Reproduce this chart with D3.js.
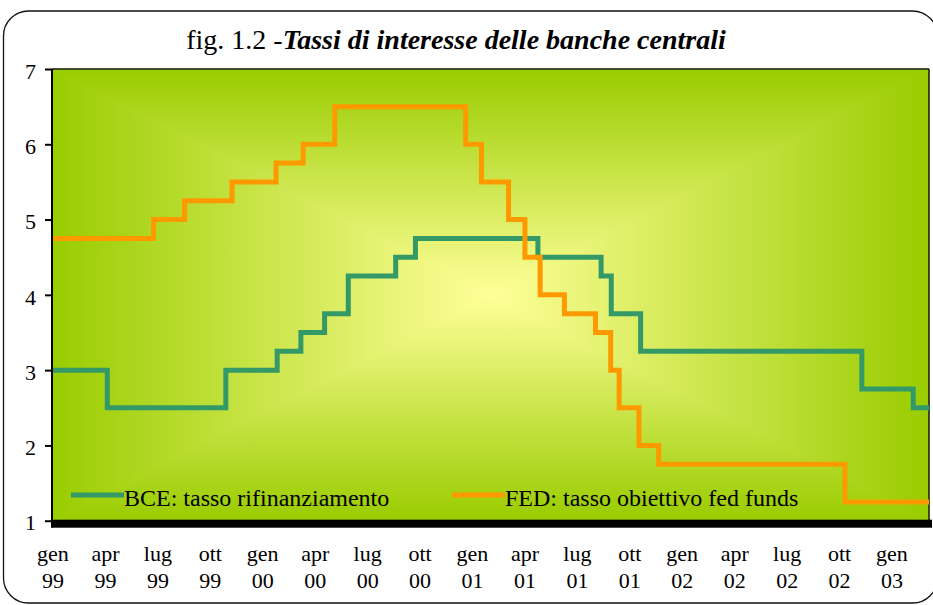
<!DOCTYPE html>
<html>
<head>
<meta charset="utf-8">
<script src="https://d3js.org/d3.v7.min.js"></script>
<style>
  body { margin: 0; background: #ffffff; }
  svg { display: block; }
</style>
</head>
<body>
<div id="chart"></div>
<script>
// ECB main refinancing rate: change dates and new values
var bceDates = ["1999-01-01", "1999-04-09", "1999-11-05", "2000-02-04", "2000-03-17", "2000-04-28",
                "2000-06-09", "2000-09-01", "2000-10-06", "2001-05-11", "2001-08-31", "2001-09-18",
                "2001-11-09", "2002-12-06", "2003-03-07"];
var bceRates = [3, 2.5, 3, 3.25, 3.5, 3.75, 4.25, 4.5, 4.75, 4.5, 4.25, 3.75, 3.25, 2.75, 2.5];

// FED funds target rate: change dates and new values
var fedDates = ["1999-01-01", "1999-06-30", "1999-08-24", "1999-11-16", "2000-02-02", "2000-03-21",
                "2000-05-16", "2001-01-03", "2001-01-31", "2001-03-20", "2001-04-18", "2001-05-15",
                "2001-06-27", "2001-08-21", "2001-09-17", "2001-10-02", "2001-11-06", "2001-12-11",
                "2002-11-06"];
var fedRates = [4.75, 5, 5.25, 5.5, 5.75, 6, 6.5, 6, 5.5, 5, 4.5, 4, 3.75, 3.5, 3, 2.5, 2, 1.75, 1.25];

var startDate = "1999-01-01";
var endDate = "2003-04-04";

// Axis labels
var yTicks = [1, 2, 3, 4, 5, 6, 7];
var xMonths = ["gen", "apr", "lug", "ott", "gen", "apr", "lug", "ott", "gen", "apr", "lug", "ott",
               "gen", "apr", "lug", "ott", "gen"];
var xYears = ["99", "99", "99", "99", "00", "00", "00", "00", "01", "01", "01", "01",
              "02", "02", "02", "02", "03"];

var seriesNames = ["BCE: tasso rifinanziamento", "FED: tasso obiettivo fed funds"];

var titlePlain = "fig. 1.2 -";
var titleItalic = "Tassi di interesse delle banche centrali";

var width = 933;
var height = 605;
var plot = {left: 52, top: 69, right: 929, bottom: 520.7};
var colors = {bce: "#339966", fed: "#ff9900", edge: "#99cc00", center: "#ffff99"};
var font = "'Liberation Serif', 'Times New Roman', serif";

var parse = d3.timeParse("%Y-%m-%d");

// Build step series, closing each at the end date
function buildSeries(dates, rates) {
  var pts = dates.map(function(d, i) { return {date: parse(d), value: rates[i]}; });
  pts.push({date: parse(endDate), value: rates[rates.length - 1]});
  return pts;
}
var bce = buildSeries(bceDates, bceRates);
var fed = buildSeries(fedDates, fedRates);

var xScale = d3.scaleTime()
               .domain([parse(startDate), parse(endDate)])
               .range([plot.left, plot.right]);

var yScale = d3.scaleLinear()
               .domain([1, 7])
               .range([plot.bottom, plot.top]);

// Tick labels are evenly placed categories
var labelScale = d3.scalePoint()
                   .domain(d3.range(xMonths.length))
                   .range([53, 892]);

var svg = d3.select("#chart")
            .append("svg")
            .attr("width", width)
            .attr("height", height);

// Rounded outer frame
svg.append("rect")
   .attr("x", 3.5).attr("y", 11)
   .attr("width", 934).attr("height", 592)
   .attr("rx", 25).attr("ry", 25)
   .attr("fill", "#ffffff")
   .attr("stroke", "#111")
   .attr("stroke-width", 1.3);

// Title
var title = svg.append("text")
   .attr("x", 456)
   .attr("y", 49)
   .attr("text-anchor", "middle")
   .attr("font-family", font)
   .attr("font-size", 28)
   .attr("fill", "#000");
title.append("tspan").text(titlePlain);
title.append("tspan").attr("font-style", "italic").attr("font-weight", "bold").text(titleItalic);

// Background: rectangular "from center" gradient made of four triangles
var defs = svg.append("defs");
var cx = (plot.left + plot.right) / 2;
var cy = (plot.top + plot.bottom) / 2;
var sides = [
  {id: "gTop", x1: cx, y1: plot.top, x2: cx, y2: cy,
   pts: [[plot.left, plot.top], [plot.right, plot.top], [cx, cy]]},
  {id: "gBottom", x1: cx, y1: plot.bottom, x2: cx, y2: cy,
   pts: [[plot.left, plot.bottom], [plot.right, plot.bottom], [cx, cy]]},
  {id: "gLeft", x1: plot.left, y1: cy, x2: cx, y2: cy,
   pts: [[plot.left, plot.top], [plot.left, plot.bottom], [cx, cy]]},
  {id: "gRight", x1: plot.right, y1: cy, x2: cx, y2: cy,
   pts: [[plot.right, plot.top], [plot.right, plot.bottom], [cx, cy]]}
];
sides.forEach(function(s) {
  var g = defs.append("linearGradient")
              .attr("id", s.id)
              .attr("gradientUnits", "userSpaceOnUse")
              .attr("x1", s.x1).attr("y1", s.y1)
              .attr("x2", s.x2).attr("y2", s.y2);
  g.append("stop").attr("offset", "0%").attr("stop-color", colors.edge);
  g.append("stop").attr("offset", "100%").attr("stop-color", colors.center);
});

svg.append("rect")
   .attr("x", plot.left).attr("y", plot.top)
   .attr("width", plot.right - plot.left)
   .attr("height", plot.bottom - plot.top)
   .attr("fill", "#c8e24a");

svg.selectAll("polygon.bg")
   .data(sides)
   .enter()
   .append("polygon")
   .attr("class", "bg")
   .attr("points", function(d) { return d.pts.map(function(p) { return p.join(","); }).join(" "); })
   .attr("fill", function(d) { return "url(#" + d.id + ")"; })
   .attr("stroke", function(d) { return "url(#" + d.id + ")"; })
   .attr("stroke-width", 0.8);

// Plot border (top and right)
svg.append("line")
   .attr("x1", plot.left).attr("x2", plot.right)
   .attr("y1", plot.top).attr("y2", plot.top)
   .attr("stroke", "#1a1a1a").attr("stroke-width", 1.5);
svg.append("line")
   .attr("x1", plot.right).attr("x2", plot.right)
   .attr("y1", plot.top).attr("y2", plot.bottom)
   .attr("stroke", "#1a1a1a").attr("stroke-width", 1.5);

// Lines
var line = d3.line()
             .x(function(d) { return xScale(d.date); })
             .y(function(d) { return yScale(d.value); })
             .curve(d3.curveStepAfter);

svg.append("path")
   .datum(bce)
   .attr("d", line)
   .attr("fill", "none")
   .attr("stroke", colors.bce)
   .attr("stroke-width", 5);

svg.append("path")
   .datum(fed)
   .attr("d", line)
   .attr("fill", "none")
   .attr("stroke", colors.fed)
   .attr("stroke-width", 5);

// Thick floor band along the bottom
svg.append("rect")
   .attr("x", plot.left)
   .attr("y", plot.bottom - 1)
   .attr("width", plot.right - plot.left + 3)
   .attr("height", 8)
   .attr("fill", "#000");

// Y axis
var yAxis = d3.axisLeft(yScale)
              .tickValues(yTicks)
              .tickSize(7)
              .tickPadding(9)
              .tickFormat(d3.format("d"));

var yG = svg.append("g")
   .attr("transform", "translate(" + plot.left + ",0)")
   .call(yAxis);
yG.select(".domain").attr("stroke", "#000").attr("stroke-width", 2)
  .attr("d", "M0," + plot.top + "V" + (plot.bottom + 7));
yG.selectAll(".tick line").attr("stroke", "#000").attr("stroke-width", 2);
yG.selectAll(".tick text")
  .attr("font-family", font)
  .attr("font-size", 22)
  .attr("fill", "#000")
  .attr("dy", "0.42em");

// X labels (two lines)
var xLab = svg.append("g")
   .selectAll("text")
   .data(xMonths)
   .enter()
   .append("text")
   .attr("x", function(d, i) { return labelScale(i); })
   .attr("text-anchor", "middle")
   .attr("font-family", font)
   .attr("font-size", 22)
   .attr("fill", "#000");
xLab.append("tspan").attr("x", function(d, i) { return labelScale(i); }).attr("y", 561).text(function(d) { return d; });
xLab.append("tspan").attr("x", function(d, i) { return labelScale(i); }).attr("y", 588).text(function(d, i) { return xYears[i]; });

// Legend
var legend = [
  {name: seriesNames[0], color: colors.bce, x: 71},
  {name: seriesNames[1], color: colors.fed, x: 452}
];
var lg = svg.selectAll("g.legend")
   .data(legend)
   .enter()
   .append("g")
   .attr("class", "legend")
   .attr("transform", function(d) { return "translate(" + d.x + ",495)"; });
lg.append("line")
  .attr("x1", 0).attr("x2", 53)
  .attr("y1", 0).attr("y2", 0)
  .attr("stroke", function(d) { return d.color; })
  .attr("stroke-width", 5);
lg.append("text")
  .attr("x", 53)
  .attr("y", 11)
  .attr("font-family", font)
  .attr("font-size", 24)
  .attr("fill", "#000")
  .text(function(d) { return d.name; });
</script>
</body>
</html>
